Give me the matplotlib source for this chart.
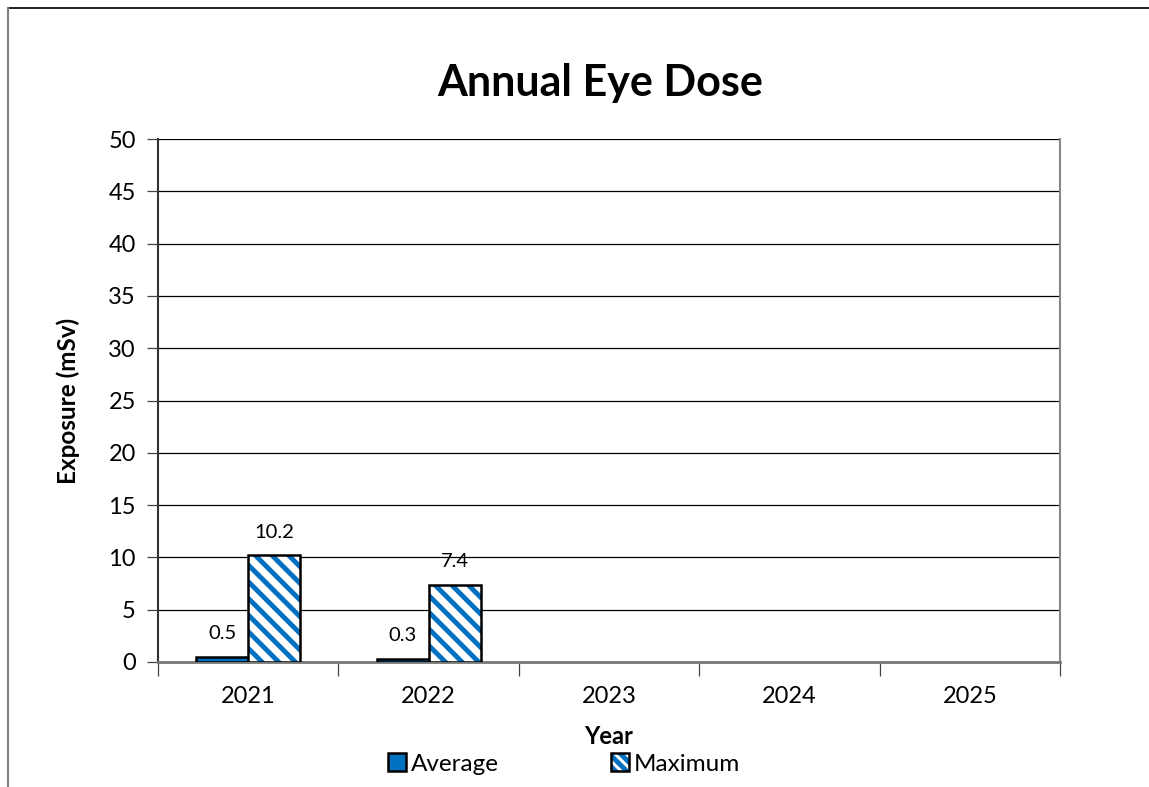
import matplotlib
matplotlib.use("Agg")
import matplotlib.pyplot as plt
from matplotlib.patches import Patch
from matplotlib.lines import Line2D
from matplotlib.legend_handler import HandlerBase
from matplotlib.patches import Rectangle
import numpy as np

years = ["2021", "2022", "2023", "2024", "2025"]
average = [0.5, 0.3, None, None, None]
maximum = [10.2, 7.4, None, None, None]
yticks = [0, 5, 10, 15, 20, 25, 30, 35, 40, 45, 50]

BLUE = "#0070C0"
plt.rcParams["font.family"] = ["Lato", "DejaVu Sans"]
plt.rcParams["hatch.linewidth"] = 3.5

W, H = 1149, 787
fig = plt.figure(figsize=(W / 100, H / 100), dpi=100)
ax = fig.add_axes([158 / W, 1 - 662 / H, (1060 - 158) / W, (662 - 139) / H])

x = np.arange(len(years))
bw = 0.288
for i in range(len(years)):
    if average[i] is not None:
        ax.bar(x[i] - bw / 2, average[i], bw, color=BLUE, edgecolor="black",
               linewidth=1.8, zorder=3)
        ax.text(x[i] - bw / 2, average[i] + 1.4, f"{average[i]:.1f}",
                ha="center", va="bottom", fontsize=14.5)
    if maximum[i] is not None:
        # blue diagonal stripes, then a black outline on top
        ax.bar(x[i] + bw / 2, maximum[i], bw, color="white", edgecolor=BLUE,
               hatch="\\\\", linewidth=0, zorder=3)
        ax.bar(x[i] + bw / 2, maximum[i], bw, facecolor="none", edgecolor="black",
               linewidth=1.8, zorder=4)
        ax.text(x[i] + bw / 2, maximum[i] + 1.4, f"{maximum[i]:.1f}",
                ha="center", va="bottom", fontsize=14.5)

ax.set_xlim(-0.5, len(years) - 0.5)
ax.set_ylim(0, 50)
ax.set_yticks(yticks)
ax.set_yticklabels([str(v) for v in yticks], fontsize=17)
ax.yaxis.grid(True, color="black", linewidth=0.9, zorder=0)
ax.set_axisbelow(True)

ax.set_xticks(x)
ax.set_xticklabels(years, fontsize=17)
ax.tick_params(axis="x", length=0, pad=17)
ax.set_xticks(np.arange(-0.5, len(years)), minor=True)
ax.tick_params(axis="x", which="minor", length=10, width=0.9, color="#444444")
ax.tick_params(axis="y", length=8, width=0.9, color="#444444", pad=8)

ax.spines["top"].set_visible(False)
ax.spines["right"].set_color("#888888")
ax.spines["right"].set_linewidth(1.5)
ax.spines["left"].set_color("#333333")
ax.spines["left"].set_linewidth(1.5)
ax.spines["bottom"].set_color("#777777")
ax.spines["bottom"].set_linewidth(2)

ax.set_ylabel("Exposure (mSv)", fontsize=17.5, fontweight="bold", labelpad=20)
ax.set_xlabel("Year", fontsize=17, fontweight="bold", labelpad=13)

fig.text(600 / W, 1 - 83 / H, "Annual Eye Dose", ha="center", va="center",
         fontsize=31, fontweight="bold")


class StripedHandler(HandlerBase):
    def create_artists(self, legend, orig_handle, xdescent, ydescent,
                       width, height, fontsize, trans):
        back = Rectangle((-xdescent, -ydescent), width, height, facecolor="white",
                         edgecolor=BLUE, hatch="\\\\\\", linewidth=0, transform=trans)
        frame = Rectangle((-xdescent, -ydescent), width, height, facecolor="none",
                          edgecolor="black", linewidth=1.8, transform=trans)
        return [back, frame]


avg_handle = Patch(facecolor=BLUE, edgecolor="black", linewidth=1.8)
max_handle = Patch(facecolor="white", edgecolor="black")
fig.legend([avg_handle, max_handle], ["Average", "Maximum"], loc="center",
           bbox_to_anchor=(564 / W, 1 - 764 / H), ncol=2, frameon=False,
           fontsize=17.5, handlelength=0.75, handleheight=0.75, handletextpad=0.2,
           columnspacing=4.6, handler_map={max_handle: StripedHandler()})

# outer chart border (top and left edges)
fig.add_artist(Line2D([8 / W, 1], [1 - 8 / H, 1 - 8 / H], color="black", linewidth=1.2))
fig.add_artist(Line2D([8 / W, 8 / W], [0, 1 - 8 / H], color="#808080", linewidth=1.5))

fig.savefig("out.png", dpi=100)
